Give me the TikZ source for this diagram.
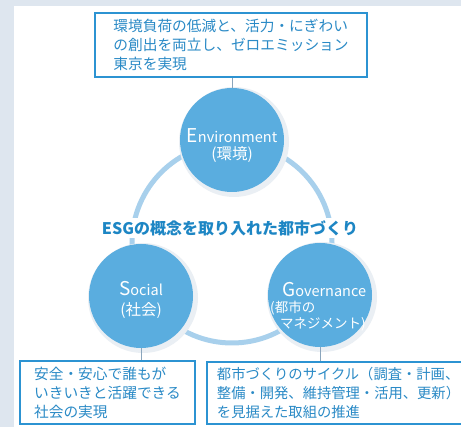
\documentclass[tikz,border=0pt]{standalone}
\usepackage{fontspec}
\setmainfont{Noto Sans CJK JP}
\newfontfamily\latinsp{Noto Sans CJK JP}
\definecolor{bgc}{HTML}{DEE6EF}
\definecolor{ringc}{HTML}{A8D0EC}
\definecolor{circc}{HTML}{5AADDF}
\definecolor{haloc}{HTML}{EAEFF4}
\definecolor{txtc}{HTML}{2A8AC6}
\definecolor{boxc}{HTML}{2C93D2}
\definecolor{connc}{HTML}{8AA5BC}
\definecolor{titlec}{HTML}{1D86C4}
\newcommand\bigL[1]{{\fontsize{19}{19}\selectfont #1}}
\tikzset{
  esgcirc/.style={circle, fill=circc, minimum size=104pt, inner sep=0pt},
  halo/.style={circle, fill=haloc, minimum size=110pt, inner sep=0pt},
  infobox/.style={draw=boxc, line width=2pt, fill=white, align=left, text=txtc,
    font=\fontsize{14.7}{19}\selectfont, inner sep=0pt},
  conn/.style={draw=connc, line width=1pt},
  circtext/.style={text=white, inner sep=0pt, align=center},
}
\begin{document}
\begin{tikzpicture}[x=1pt,y=-1pt]
\clip (0,0) rectangle (461,427);
\fill[bgc] (0,0) rectangle (461,427);
\fill[white] (14,6) rectangle (461,427);
% ring
\draw[ringc, line width=5pt] (232,243) circle[radius=100pt];
% halos
\node[halo] (envh) at (234,142) {};
\node[halo] (soch) at (143,298) {};
\node[halo] (govh) at (322,297) {};
% circles
\node[esgcirc] (env) at (232,140) {};
\node[esgcirc] (soc) at (141,296) {};
\node[esgcirc] (gov) at (320,295) {};
% boxes
\node[infobox, minimum width=272pt, minimum height=64pt] (ebox) at (231,45)
  {環境負荷の低減と、活力・にぎわい\\の創出を両立し、ゼロエミッション\\東京を実現};
\node[infobox, minimum width=175pt, minimum height=63pt] (sbox) at (107.5,392.5)
  {安全・安心で誰もが\\いきいきと活躍できる\\社会の実現};
\node[infobox, minimum width=263pt, minimum height=62pt, font=\fontsize{14.3}{19}\selectfont] (gbox) at (338.5,393)
  {都市づくりのサイクル（調査・計画、\\整備・開発、維持管理・活用、更新）\\を見据えた取組の推進};
% connectors
\draw[conn] (ebox.south -| env.north) -- (env.north);
\draw[conn] (soc.south) -- (soc.south |- sbox.north);
\draw[conn] (gov.south) -- (gov.south |- gbox.north);
% title
\node[font=\bfseries\fontsize{16}{16}\selectfont, text=titlec, fill=white, inner sep=2pt] (title) at (230,228)
  {ESGの概念を取り入れた都市づくり};
% circle texts
\node[circtext, font=\fontsize{15.5}{17}\selectfont] (envt) at (232,146)
  {{\latinsp\fontsize{14.5}{17}\selectfont\bigL{E}nvironment}\\(環境)};
\node[circtext, font=\fontsize{15.5}{20}\selectfont] (soct) at (141,300)
  {{\latinsp\fontsize{14.5}{20}\selectfont\bigL{S}ocial}\\(社会)};
\node[circtext, align=left, anchor=west, font=\fontsize{13.5}{16}\selectfont] (govt) at (270,307)
  {\hspace*{12pt}{\latinsp\fontsize{14.5}{16}\selectfont\bigL{G}overnance}\\(都市の\\\hspace*{10pt}マネジメント)};
\end{tikzpicture}
\end{document}
